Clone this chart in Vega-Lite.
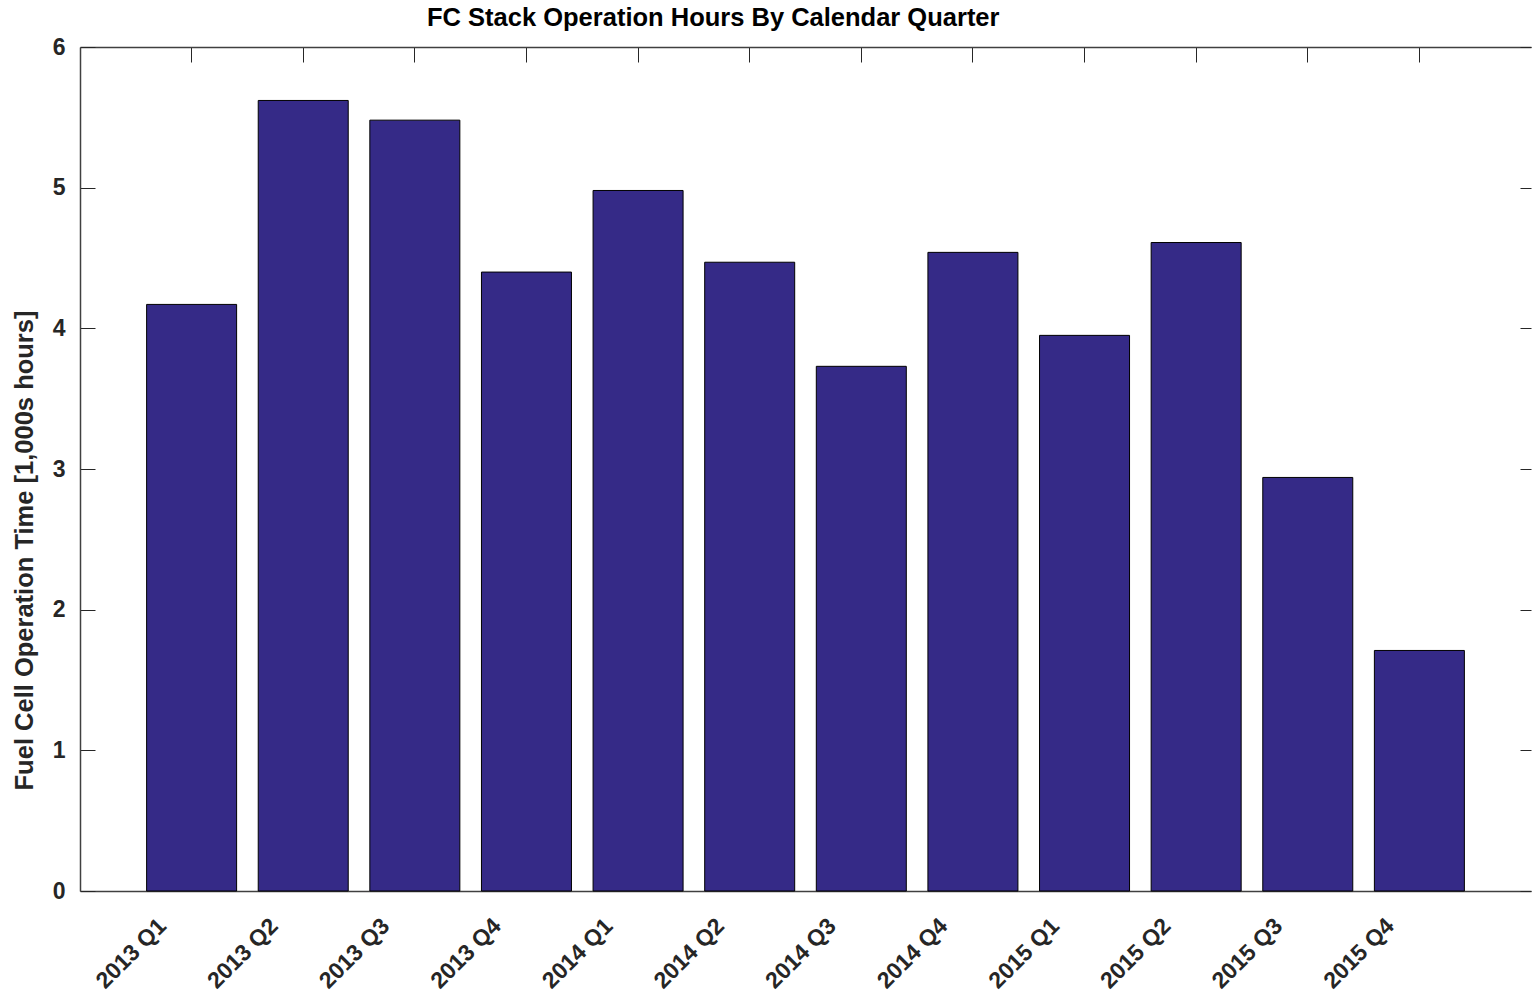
{
  "$schema": "https://vega.github.io/schema/vega-lite/v6.json",
  "autosize": {"type": "none"},
  "padding": {"left": 80, "top": 47, "right": 1, "bottom": 108},
  "width": 1451,
  "height": 844,
  "background": "white",
  "title": {
    "text": "FC Stack Operation Hours By Calendar Quarter",
    "anchor": "start",
    "frame": "group",
    "dx": 347,
    "offset": 5,
    "font": "Liberation Sans",
    "fontSize": 25.5,
    "fontWeight": "bold",
    "color": "#000000"
  },
  "data": {
    "values": [
      {"quarter": "2013 Q1", "hours": 4.17},
      {"quarter": "2013 Q2", "hours": 5.62},
      {"quarter": "2013 Q3", "hours": 5.48},
      {"quarter": "2013 Q4", "hours": 4.40},
      {"quarter": "2014 Q1", "hours": 4.98},
      {"quarter": "2014 Q2", "hours": 4.47},
      {"quarter": "2014 Q3", "hours": 3.73},
      {"quarter": "2014 Q4", "hours": 4.54},
      {"quarter": "2015 Q1", "hours": 3.95},
      {"quarter": "2015 Q2", "hours": 4.61},
      {"quarter": "2015 Q3", "hours": 2.94},
      {"quarter": "2015 Q4", "hours": 1.71}
    ]
  },
  "layer": [
    {
      "mark": {"type": "bar", "fill": "#352A87", "stroke": "#000000", "strokeWidth": 1},
      "encoding": {
        "x": {
          "field": "quarter", "type": "ordinal", "sort": null,
          "scale": {"paddingInner": 0.1936, "paddingOuter": 0.5968},
          "axis": {
            "orient": "bottom", "title": null, "ticks": false, "domain": true,
            "labelAngle": -45, "labelAlign": "right", "labelBaseline": "middle",
            "labelOffset": -29, "labelPadding": 31
          }
        },
        "y": {
          "field": "hours", "type": "quantitative",
          "scale": {"domain": [0, 6], "nice": false, "zero": true},
          "axis": {
            "orient": "left", "values": [0, 1, 2, 3, 4, 5, 6], "grid": false,
            "tickSize": -15, "labelPadding": 30,
            "title": "Fuel Cell Operation Time [1,000s hours]", "titlePadding": 15,
            "titleY": 503, "titleFontSize": 25.5
          }
        }
      }
    },
    {
      "mark": {"type": "bar", "opacity": 0},
      "encoding": {
        "x": {
          "field": "quarter", "type": "ordinal", "sort": null,
          "axis": {"orient": "top", "title": null, "labels": false, "tickSize": -15, "domain": true}
        },
        "y": {
          "field": "hours", "type": "quantitative",
          "axis": {"orient": "right", "title": null, "labels": false, "values": [0, 1, 2, 3, 4, 5, 6], "grid": false, "tickSize": -11, "domain": false}
        }
      }
    }
  ],
  "resolve": {"axis": {"x": "independent", "y": "independent"}},
  "config": {
    "view": {"stroke": null},
    "axis": {
      "labelFont": "Liberation Sans", "labelFontSize": 23, "labelFontWeight": "bold", "labelColor": "#262626",
      "titleFont": "Liberation Sans", "titleFontSize": 25, "titleFontWeight": "bold", "titleColor": "#262626",
      "domainColor": "#404040", "domainWidth": 1.5, "tickColor": "#262626", "tickWidth": 1
    }
  }
}
